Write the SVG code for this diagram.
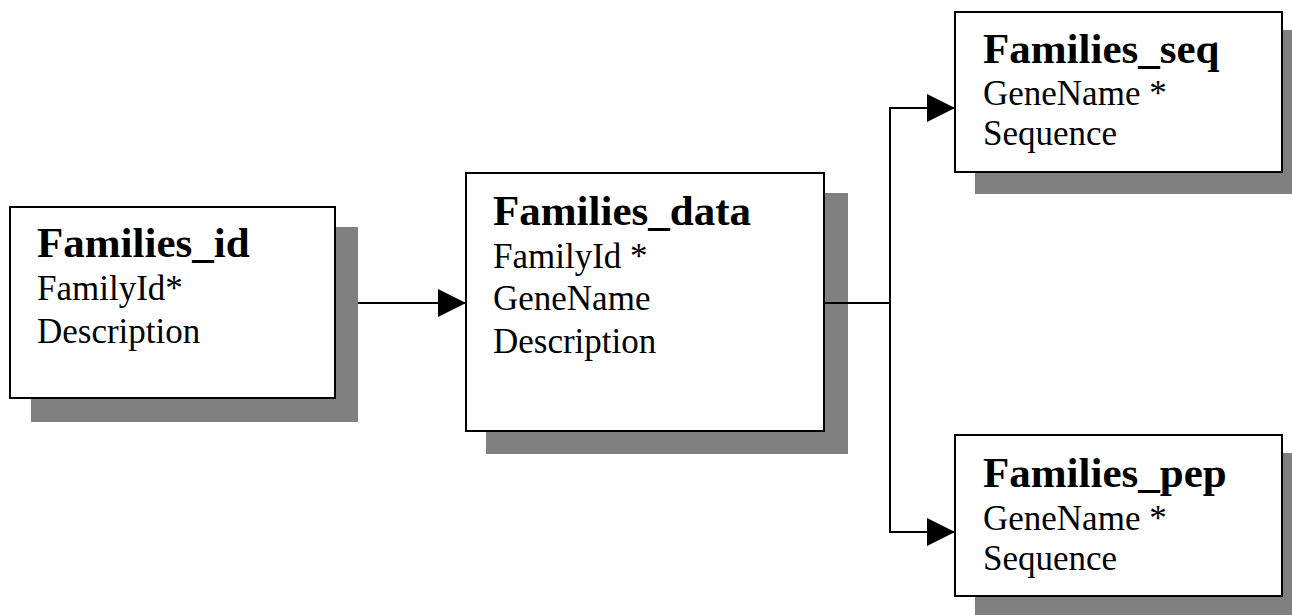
<svg xmlns="http://www.w3.org/2000/svg" width="1292" height="615" viewBox="0 0 1292 615">
<style>
.shadow{fill:#808080;stroke:none}
.box{fill:#fff;stroke:#000;stroke-width:2}
.title{font-family:"Liberation Serif","Times New Roman",serif;font-weight:bold;font-size:43px;fill:#000}
.field{font-family:"Liberation Serif","Times New Roman",serif;font-size:35px;fill:#000}
.conn{fill:none;stroke:#000;stroke-width:2}
</style>
<defs>
<marker id="arrow" viewBox="0 0 28 28" refX="28" refY="14" markerWidth="28" markerHeight="28" markerUnits="userSpaceOnUse" orient="auto">
<path d="M0,0 L28,14 L0,28 Z" fill="#000"/>
</marker>
</defs>
<g id="families_id">
<rect class="shadow" x="31" y="227" width="327" height="195"/>
<rect class="box" x="10" y="207" width="325" height="191"/>
<text class="title" x="37" y="257">Families_id</text>
<text class="field" x="37" y="300">FamilyId*</text>
<text class="field" x="37" y="343">Description</text>
</g>
<g id="families_data">
<rect class="shadow" x="486" y="193" width="362" height="261"/>
<rect class="box" x="466" y="173" width="358" height="258"/>
<text class="title" x="493" y="225">Families_data</text>
<text class="field" x="493" y="268">FamilyId *</text>
<text class="field" x="493" y="310">GeneName</text>
<text class="field" x="493" y="353">Description</text>
</g>
<g id="families_seq">
<rect class="shadow" x="975" y="30" width="317" height="164"/>
<rect class="box" x="955" y="12" width="327" height="160"/>
<text class="title" x="983" y="63">Families_seq</text>
<text class="field" x="983" y="105">GeneName *</text>
<text class="field" x="983" y="145">Sequence</text>
</g>
<g id="families_pep">
<rect class="shadow" x="975" y="453" width="317" height="162"/>
<rect class="box" x="955" y="435" width="327" height="161"/>
<text class="title" x="983" y="487">Families_pep</text>
<text class="field" x="983" y="530">GeneName *</text>
<text class="field" x="983" y="570">Sequence</text>
</g>
<g id="connectors">
<line class="conn" x1="358" y1="303" x2="466" y2="303" marker-end="url(#arrow)"/>
<polyline class="conn" points="825,303 890,303"/>
<line class="conn" x1="890" y1="107" x2="890" y2="533"/>
<polyline class="conn" points="889,108 955,108" marker-end="url(#arrow)"/>
<polyline class="conn" points="889,532 955,532" marker-end="url(#arrow)"/>
</g>
</svg>
